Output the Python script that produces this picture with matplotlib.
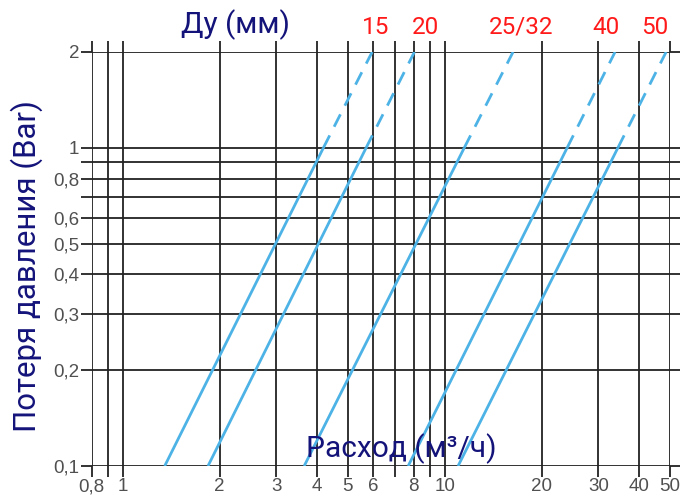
import matplotlib
matplotlib.use("Agg")
import matplotlib.pyplot as plt
from matplotlib.ticker import FixedLocator, FixedFormatter, NullLocator

# flow (m3/h) at 0.1 bar, 1 bar (Kv) and 2 bar for each DN
dn_labels = ["15", "20", "25/32", "40", "50"]
q_low = [1.35, 1.84, 3.66, 7.7, 11.0]
q_kv = [4.2, 5.7, 11.5, 24.0, 34.5]
q_high = [5.95, 8.05, 16.3, 33.8, 48.7]
dp_low, dp_kv, dp_high = 0.1, 1.0, 2.0

x_ticks = [0.8, 0.9, 1, 2, 3, 4, 5, 6, 7, 8, 9, 10, 20, 30, 40, 50]
x_labels = ["0,8", "", "1", "2", "3", "4", "5", "6", "", "8", "", "10", "20", "30", "40", "50"]
y_ticks = [0.1, 0.2, 0.3, 0.4, 0.5, 0.6, 0.7, 0.8, 0.9, 1, 2]
y_labels = ["0,1", "0,2", "0,3", "0,4", "0,5", "0,6", "", "0,8", "", "1", "2"]

navy = "#14137a"
blue = "#4db3e6"
grid_c = "#222222"

fig = plt.figure(figsize=(6.8, 4.97), dpi=100)
ax = fig.add_axes([0.1346, 0.0624, 0.8504, 0.833])
ax.set_xscale("log")
ax.set_yscale("log")
ax.set_xlim(0.8, 50)
ax.set_ylim(0.1, 2)

for s in ax.spines.values():
    s.set_visible(False)

ax.xaxis.set_major_locator(FixedLocator(x_ticks))
ax.xaxis.set_major_formatter(FixedFormatter(x_labels))
ax.xaxis.set_minor_locator(NullLocator())
ax.yaxis.set_major_locator(FixedLocator(y_ticks))
ax.yaxis.set_major_formatter(FixedFormatter(y_labels))
ax.yaxis.set_minor_locator(NullLocator())

ax.grid(True, color=grid_c, linewidth=1.3)
ax.tick_params(axis="both", which="major", direction="out", length=8, width=1.3,
               color=grid_c, labelcolor="#505050", labelsize=13.5, pad=1)
ax.tick_params(axis="x", top=True)
ax.tick_params(axis="y", right=True)
for lab in ax.get_xticklabels() + ax.get_yticklabels():
    lab.set_family("Liberation Sans")

for lo, kv, hi in zip(q_low, q_kv, q_high):
    ax.plot([lo, kv], [dp_low, dp_kv], color=blue, linewidth=2, solid_capstyle="butt", zorder=3)
    ax.plot([kv, hi], [dp_kv, dp_high], color=blue, linewidth=2, dashes=(5, 3.5), zorder=3)

# DN labels above the top ends of the lines
label_x = [6.12, 8.69, 17.3, 31.7, 45.0]
for lab, xv in zip(dn_labels, label_x):
    ax.text(xv, 1.06, lab, color="#ff1a1a", fontsize=17.5, family="Roboto",
            ha="center", va="center", transform=ax.get_xaxis_transform(), clip_on=False)

fig.text(0.3456, 0.95, "Ду (мм)", color=navy, fontsize=21.5, family="Roboto",
         ha="center", va="center")
fig.text(0.59, 0.0805, "Расход (м³/ч)", color=navy, fontsize=21.5, family="Roboto",
         ha="center", va="baseline")
fig.text(0.04, 0.465, "Потеря давления (Bar)", color=navy, fontsize=22.5, family="Roboto",
         rotation=90, ha="center", va="center")

fig.savefig("out.png", dpi=100, facecolor="white")
